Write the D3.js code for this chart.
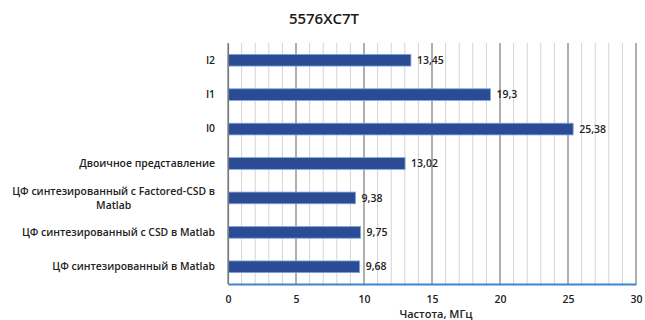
<!DOCTYPE html>
<html>
<head>
<meta charset="utf-8">
<script src="https://cdn.jsdelivr.net/npm/d3@7"></script>
<style>
  html, body { margin: 0; padding: 0; background: #fff; }
  svg { display: block; }
</style>
</head>
<body>
<svg id="chart" width="645" height="320"></svg>
<script>
// Categories, top to bottom
const categories = [
  "I2",
  "I1",
  "I0",
  "Двоичное представление",
  "ЦФ синтезированный с Factored-CSD в\nMatlab",
  "ЦФ синтезированный с CSD в Matlab",
  "ЦФ синтезированный в Matlab"
];
// Frequency, MHz
const values = [13.45, 19.3, 25.38, 13.02, 9.38, 9.75, 9.68];
const valueLabels = ["13,45", "19,3", "25,38", "13,02", "9,38", "9,75", "9,68"];
const xTicks = [0, 5, 10, 15, 20, 25, 30];
const minorTicks = d3.range(0, 31, 1);
const titleText = "5576XC7T";
const xTitle = "Частота, МГц";

const svg = d3.select("#chart");
const margin = { left: 228, right: 9, top: 43, bottom: 36 };
const W = 645, H = 320;
const plotBottom = H - margin.bottom;

const x = d3.scaleLinear().domain([0, 30]).range([margin.left, W - margin.right]);
const y = d3.scaleBand().domain(categories).range([margin.top, plotBottom]).paddingInner(0.66).paddingOuter(0.33);

const font = "'Open Sans', 'DejaVu Sans', sans-serif";
const labelSize = 10.4;

// Title
svg.append("text")
  .attr("x", 324).attr("y", 24)
  .attr("text-anchor", "middle")
  .attr("font-family", font)
  .attr("font-size", 15)
  .attr("font-weight", 600)
  .attr("fill", "#1a1a1a")
  .text(titleText);

// Minor gridlines
svg.append("g").selectAll("line").data(minorTicks.filter(d => d % 5 !== 0)).join("line")
  .attr("x1", d => x(d)).attr("x2", d => x(d))
  .attr("y1", margin.top).attr("y2", plotBottom)
  .attr("stroke", "#d4d4d4").attr("stroke-width", 1);

// Major gridlines
svg.append("g").selectAll("line").data(xTicks).join("line")
  .attr("x1", d => x(d)).attr("x2", d => x(d))
  .attr("y1", margin.top).attr("y2", plotBottom)
  .attr("stroke", "#7a7a7a").attr("stroke-width", 1.2);

// Bars
svg.append("g").selectAll("rect").data(values).join("rect")
  .attr("x", x(0))
  .attr("y", (d, i) => y(categories[i]))
  .attr("width", d => x(d) - x(0))
  .attr("height", y.bandwidth())
  .attr("fill", "#2b4c95")
  .attr("stroke", "#7fa8dc")
  .attr("stroke-width", 0.8);

// Value labels
svg.append("g").selectAll("text").data(values).join("text")
  .attr("x", d => x(d) + 6)
  .attr("y", (d, i) => y(categories[i]) + y.bandwidth() / 2)
  .attr("dy", "0.35em")
  .attr("font-family", font)
  .attr("font-size", 10.5)
  .attr("font-weight", 600)
  .attr("fill", "#222")
  .text((d, i) => valueLabels[i]);

// Bottom axis
const xAxis = d3.axisBottom(x).tickValues(xTicks).tickSize(0).tickPadding(12).tickFormat(d3.format("d"));
const gx = svg.append("g").attr("transform", `translate(0,${plotBottom})`).call(xAxis);
gx.select(".domain").attr("stroke", "#3f86c9").attr("stroke-width", 2);
gx.selectAll("text")
  .attr("font-family", font)
  .attr("font-size", 10.5)
  .attr("font-weight", 600)
  .attr("fill", "#222");

// Left axis (categories)
const yAxis = d3.axisLeft(y).tickSize(0).tickPadding(13);
const gy = svg.append("g").attr("transform", `translate(${margin.left},0)`).call(yAxis);
gy.select(".domain").attr("stroke", "#7a7a7a").attr("stroke-width", 1.2);
gy.selectAll("text").each(function(d) {
  const lines = d.split("\n");
  const t = d3.select(this)
    .attr("font-family", font)
    .attr("font-size", labelSize)
    .attr("font-weight", 600)
    .attr("fill", "#222")
    .text(null);
  if (lines.length === 1) {
    t.text(lines[0]);
  } else {
    // two-line label, lines centred on each other
    const probe = svg.append("text").attr("font-family", font).attr("font-size", labelSize).attr("font-weight", 600).text(lines[0]);
    const w = probe.node().getComputedTextLength();
    probe.remove();
    const xr = +t.attr("x");
    t.attr("text-anchor", "middle").attr("dy", null).attr("y", -6);
    lines.forEach((ln, k) => {
      t.append("tspan").attr("x", xr - w / 2).attr("dy", k === 0 ? "0.32em" : "1.3em").text(ln);
    });
  }
});

// Axis title
svg.append("text")
  .attr("x", 436).attr("y", 318)
  .attr("text-anchor", "middle")
  .attr("font-family", font)
  .attr("font-size", 11)
  .attr("font-weight", 600)
  .attr("fill", "#222")
  .text(xTitle);
</script>
</body>
</html>
